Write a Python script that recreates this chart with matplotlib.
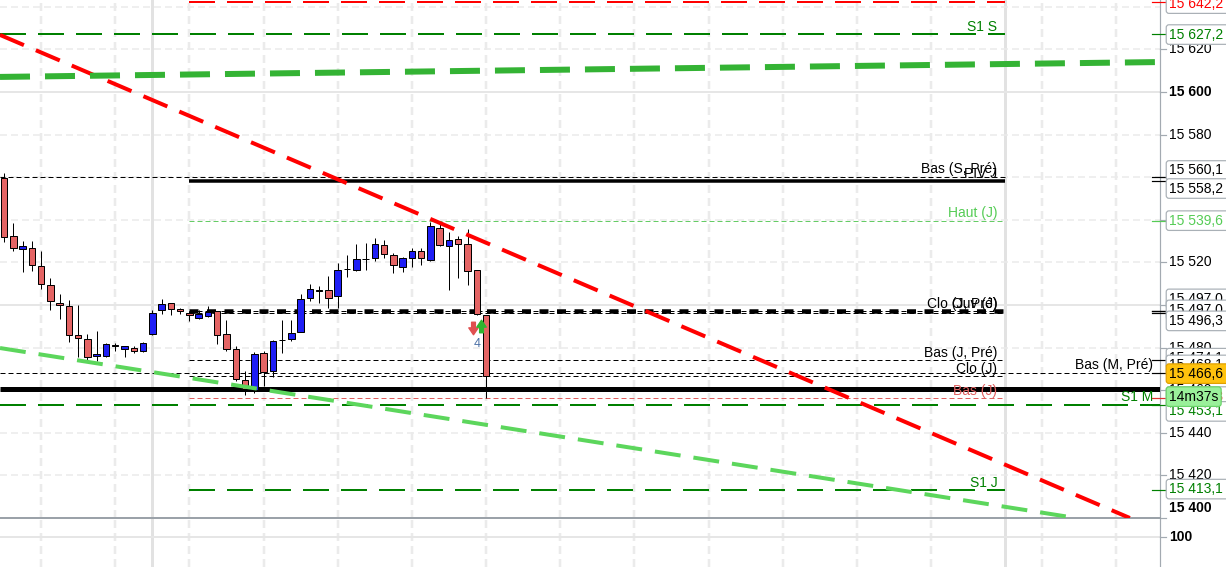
import matplotlib
matplotlib.use('Agg')
import matplotlib.pyplot as plt
from matplotlib.transforms import blended_transform_factory, offset_copy
from matplotlib.path import Path

plt.rcParams['font.family'] = ['Liberation Sans', 'DejaVu Sans']
plt.rcParams['font.size'] = 10
plt.rcParams['lines.scale_dashes'] = False

# ---------------- data ----------------
opens = [15559.6, 15532.4, 15526.2, 15526.6, 15518.2, 15509.2, 15500.9, 15499.4, 15485.8, 15484.0,
         15475.9, 15476.2, 15480.9, 15479.5, 15479.7, 15478.6, 15486.2, 15497.5, 15500.8, 15498.0,
         15496.2, 15493.8, 15494.8, 15497.0, 15486.2, 15479.2, 15464.8, 15460.1, 15477.3, 15469.2,
         15483.6, 15483.9, 15487.5, 15503.1, 15506.7, 15506.9, 15504.1, 15516.9, 15516.4, 15521.6,
         15521.9, 15528.2, 15523.3, 15518.0, 15521.9, 15525.2, 15521.1, 15536.0, 15527.8, 15530.8,
         15528.5, 15516.3, 15495.1]
highs = [15562.0, 15538.4, 15529.9, 15529.9, 15525.2, 15512.5, 15505.2, 15502.3, 15500.0, 15486.4,
         15487.8, 15482.2, 15482.3, 15480.8, 15480.9, 15482.5, 15497.7, 15502.8, 15500.9, 15498.6,
         15497.1, 15497.7, 15499.5, 15497.4, 15493.0, 15480.8, 15469.0, 15478.1, 15478.4, 15483.6,
         15493.0, 15493.0, 15505.2, 15509.9, 15508.9, 15513.6, 15519.6, 15523.5, 15528.6, 15529.0,
         15531.3, 15530.5, 15524.3, 15522.7, 15526.9, 15526.9, 15539.1, 15538.8, 15534.4, 15532.4,
         15535.5, 15516.4, 15495.3]
lows = [15529.6, 15525.5, 15515.6, 15516.1, 15507.7, 15497.8, 15493.6, 15482.8, 15475.4, 15473.9,
        15473.9, 15475.4, 15478.4, 15475.7, 15477.3, 15477.9, 15486.1, 15495.9, 15495.4, 15495.6,
        15492.3, 15493.3, 15494.5, 15481.5, 15478.5, 15464.3, 15457.7, 15458.5, 15462.1, 15466.3,
        15477.3, 15483.2, 15487.5, 15502.0, 15500.8, 15498.5, 15498.5, 15513.3, 15516.1, 15516.4,
        15520.8, 15521.9, 15514.9, 15515.6, 15518.0, 15518.8, 15520.8, 15527.8, 15507.0, 15512.5,
        15509.4, 15495.3, 15456.3]
closes = [15531.9, 15526.6, 15527.7, 15518.6, 15509.7, 15501.7, 15499.8, 15485.8, 15484.4, 15475.7,
          15477.0, 15481.7, 15480.9, 15480.6, 15478.6, 15482.2, 15496.1, 15500.3, 15498.0, 15497.1,
          15495.3, 15495.8, 15496.6, 15485.8, 15479.2, 15465.1, 15460.6, 15476.9, 15468.7, 15483.0,
          15483.6, 15486.7, 15502.7, 15507.4, 15506.7, 15503.1, 15516.3, 15516.9, 15521.5, 15521.6,
          15528.5, 15523.8, 15518.6, 15521.9, 15525.5, 15521.9, 15537.1, 15528.2, 15530.4, 15528.5,
          15515.8, 15495.8, 15466.6]

# horizontal levels (None = axis edge)
level_names = ["", "S1 S", "Bas (S, Pré)", "PIV J", "Haut (J)", "Clo (J, Pré)", "Ouv (J)", "",
               "Bas (J, Pré)", "Bas (M, Pré)", "Clo (J)", "", "Bas (J)", "S1 M", "S1 J"]
level_prices = [15642.2, 15627.2, 15560.1, 15558.2, 15539.6, 15497.0, 15497.0, 15496.3,
                15474.1, 15468.1, 15466.6, 15460.6, 15456.3, 15453.1, 15413.1]
level_start = [20, None, None, 20, 20, 20, 20, 20, 20, None, 20, None, 20, None, 20]
level_end = [108, 108, 108, 108, 108, 108, 108, 108, 108, None, 108, None, 108, None, 108]

# trend lines: two anchor points (candle index, price)
trend_red = [(0, 15626.0), (120, 15402.7)]
trend_green_top = [(0, 15607.1), (120, 15613.8)]
trend_green_low = [(0, 15479.5), (120, 15397.0)]

# right axis
tick_prices = [15620, 15600, 15580, 15560, 15540, 15520, 15500, 15480, 15460, 15440, 15420, 15400]
rlabel_prices = [15642.2, 15627.2, 15560.1, 15558.2, 15539.6, 15497.0, 15497.0, 15496.3,
                 15474.1, 15468.1, 15456.3, 15453.1, 15413.1]
current_price = 15466.6
timer_text = "14m37s"

vgrid_dashed = [4, 12, 20, 28, 36, 44, 52, 60, 68, 76, 84, 92, 100, 112, 120]
vgrid_solid = [16, 108]

signal_index = 51
signal_sell_price = 15489.2
signal_buy_price = 15490.1
signal_count_price = 15481.7
signal_count = "4"

# ---------------- styles / layout ----------------
W, H, DPI = 1226, 567, 100
PT = 72.0 / DPI  # points per pixel
STEP = 9.27      # pixels per candle

level_colors = ['#ff0000', '#008000', 'black', 'black', '#66cc66', 'black', 'black', 'black',
                'black', 'black', 'black', 'black', '#e06060', '#008000', '#008000']
level_lw = [2, 2, 1, 3.5, 1, 4.5, 1, 1, 1, 1, 1, 5, 1, 2, 2]
level_dash = [(26, 12), (26, 12), (5, 3), None, (5, 3), (9, 8.5), (5, 3), (5, 3),
              (5, 3), (5, 3), (5, 3), None, (5, 3), (26, 12), (26, 12)]
level_text_colors = ['#ff0000', '#008000', 'black', 'black', '#55cc55', 'black', 'black', 'black',
                     'black', 'black', 'black', 'black', '#e06060', '#008000', '#008000']
rlabel_colors = ['#ff0000', '#008000', 'black', 'black', '#55cc55', 'black', 'black', 'black',
                 'black', 'black', '#e03030', '#008000', '#008000']
rlabel_shift_px = [1.5, 0.5, -6.5, 7.5, 0, -12.5, -1.5, 8, -2, -8, -1.5, 6.5, -1]

fig = plt.figure(figsize=(W / DPI, H / DPI), dpi=DPI)
ax = fig.add_axes([0, 49 / H, 1160 / W, 518 / H])
axb = fig.add_axes([0, 0, 1160 / W, 48 / H])

xlim = (-4 / STEP, 1156 / STEP)
ax.set_xlim(*xlim)
ax.set_ylim(15400.0, 15643.19)
axb.set_xlim(*xlim)
axb.set_ylim(0, 160)

AXIS_GREY = '#a3aab1'
for a in (ax, axb):
    a.set_xticks([])
    a.set_yticks([])
    for s in ('top', 'left', 'bottom'):
        a.spines[s].set_visible(False)
    a.spines['right'].set_color(AXIS_GREY)
    a.spines['right'].set_linewidth(1.2 * PT)
    a.set_facecolor('white')
ax.spines['bottom'].set_visible(True)
ax.spines['bottom'].set_color('#9ba2a9')
ax.spines['bottom'].set_linewidth(2 * PT)

GRID = '#ebebeb'
# vertical grid
for a in (ax, axb):
    for v in vgrid_dashed:
        a.axvline(v, color=GRID, lw=2.5 * PT, ls=(0, (8 * PT, 5 * PT)), zorder=0.5)
    for v in vgrid_solid:
        a.axvline(v, color='#e2e2e2', lw=3 * PT, zorder=0.5)
# horizontal grid
for t in tick_prices[:-1] + [15640]:
    if t % 100 == 0:
        ax.axhline(t, color='#e6e6e6', lw=2 * PT, zorder=0.5)
    else:
        ax.axhline(t, color=GRID, lw=1.5 * PT, ls=(0, (7 * PT, 4 * PT)), zorder=0.5)
axb.axhline(100, color='#e6e6e6', lw=2 * PT, zorder=0.5)

# horizontal levels
for name, p, x0, x1, c, lw, d in zip(level_names, level_prices, level_start, level_end,
                                     level_colors, level_lw, level_dash):
    xa = xlim[0] if x0 is None else x0
    xb = xlim[1] if x1 is None else x1
    ls = '-' if d is None else (0, (d[0] * PT, d[1] * PT))
    ax.plot([xa, xb], [p, p], color=c, lw=lw * PT, ls=ls, zorder=3,
            solid_capstyle='butt', dash_capstyle='butt')

# level labels
for name, p, x1, tc in zip(level_names, level_prices, level_end, level_text_colors):
    if not name:
        continue
    xb = xlim[1] if x1 is None else x1
    dx = -7 if x1 is None else -8
    ax.annotate(name, xy=(xb, p), xycoords='data', xytext=(dx * PT, 0.5 * PT),
                textcoords='offset points', ha='right', va='bottom', color=tc,
                fontsize=10, zorder=3.5, annotation_clip=False)

# candles
xs = list(range(len(opens)))
ax.vlines(xs, lows, highs, color='black', lw=1 * PT, zorder=4)
for i, (o, c) in enumerate(zip(opens, closes)):
    if c > o:
        fc = '#1e1ef5'
    elif c < o:
        fc = '#e46464'
    else:
        fc = 'black'
    h = abs(c - o)
    if h < 0.3:
        h = 0.4
        b = o - 0.2
    else:
        b = min(o, c)
    ax.bar(i, h, bottom=b, width=6.5 / STEP, color=fc, edgecolor='black',
           linewidth=1 * PT, zorder=4.5)

# trend lines
ax.axline(trend_red[0], trend_red[1], color='#ff0000', lw=4 * PT,
          ls=(0, (26 * PT, 13 * PT)), zorder=6, dash_capstyle='butt')
ax.axline(trend_green_top[0], trend_green_top[1], color='#34b334', lw=6 * PT,
          ls=(0, (30 * PT, 15 * PT)), zorder=6, dash_capstyle='butt')
ax.axline(trend_green_low[0], trend_green_low[1], color='#5cd65c', lw=4 * PT,
          ls=(0, (26 * PT, 13 * PT)), zorder=6, dash_capstyle='butt')

# signal markers
down_arrow = Path([(-0.3, 1), (0.3, 1), (0.3, 0.1), (0.75, 0.1), (0, -1), (-0.75, 0.1),
                   (-0.3, 0.1), (-0.3, 1)],
                  [Path.MOVETO] + [Path.LINETO] * 6 + [Path.CLOSEPOLY])
up_arrow = Path([(-0.3, -1), (0.3, -1), (0.3, -0.1), (0.75, -0.1), (0, 1), (-0.75, -0.1),
                 (-0.3, -0.1), (-0.3, -1)],
                [Path.MOVETO] + [Path.LINETO] * 6 + [Path.CLOSEPOLY])
ax.plot([signal_index], [signal_sell_price], marker=down_arrow, ms=9, color='#e05050',
        mec='#e05050', ls='none', zorder=7,
        transform=offset_copy(ax.transData, fig=fig, x=-4, y=0, units='dots'))
ax.plot([signal_index], [signal_buy_price], marker=up_arrow, ms=9, color='#2fb52f',
        mec='#2fb52f', ls='none', zorder=7,
        transform=offset_copy(ax.transData, fig=fig, x=4, y=0, units='dots'))
ax.text(signal_index, signal_count_price, signal_count, color='#4a6fa5', fontsize=9,
        ha='center', va='center', zorder=7)

# right axis
tr = blended_transform_factory(ax.transAxes, ax.transData)
tick_dx = 6 / 1160.0


def fmt_tick(v):
    return f"{v:,}".replace(',', ' ')


def fmt_price(v):
    return f"{v:,.1f}".replace(',', ' ').replace('.', ',')


for t in tick_prices:
    ax.plot([1.0, 1.0 + tick_dx], [t, t], color=AXIS_GREY, lw=1.2 * PT, transform=tr,
            clip_on=False, zorder=2)
    dy = 10 if t == 15400 else 0
    ax.annotate(fmt_tick(t), xy=(1.0, t), xycoords=tr, xytext=(9 * PT, dy * PT),
                textcoords='offset points', ha='left', va='center', fontsize=10,
                fontweight='bold' if t % 100 == 0 else 'normal', color='black',
                annotation_clip=False, zorder=2)

BOX = 'round,pad=0.2,rounding_size=0.2'
box_kw = dict(boxstyle=BOX, fc='white', ec='#a9b0b6', lw=1.2 * PT)
z = 10
for p, c, s in zip(rlabel_prices, rlabel_colors, rlabel_shift_px):
    ax.plot([1.0 - 8 / 1160.0, 1.0 + tick_dx], [p, p], color=c, lw=1.2 * PT, transform=tr,
            clip_on=False, zorder=z)
    ax.annotate(fmt_price(p) + " ", xy=(1.0, p), xycoords=tr, xytext=(9 * PT, -s * PT),
                textcoords='offset points', ha='left', va='center', fontsize=10, color=c,
                bbox=dict(box_kw), annotation_clip=False, zorder=z)
    z += 1

ax.annotate(fmt_price(current_price) + " ", xy=(1.0, current_price), xycoords=tr,
            xytext=(9 * PT, 2.5 * PT), textcoords='offset points', ha='left', va='center',
            fontsize=10, color='black',
            bbox=dict(boxstyle=BOX, fc='#ffc20e', ec='#e0a000', lw=1.2 * PT),
            annotation_clip=False, zorder=40)
ax.annotate(timer_text, xy=(1.0, current_price), xycoords=tr,
            xytext=(9 * PT, -20.5 * PT), textcoords='offset points', ha='left', va='center',
            fontsize=10, color='black',
            bbox=dict(boxstyle=BOX, fc='#9af09a', ec='#6ad46a', lw=1.2 * PT),
            annotation_clip=False, zorder=41)

# bottom panel axis label
trb = blended_transform_factory(axb.transAxes, axb.transData)
axb.plot([1.0, 1.0 + tick_dx], [100, 100], color=AXIS_GREY, lw=1.2 * PT, transform=trb,
         clip_on=False)
axb.annotate("100", xy=(1.0, 100), xycoords=trb, xytext=(9 * PT, 0), textcoords='offset points',
             ha='left', va='center', fontsize=10, fontweight='bold', annotation_clip=False)

fig.savefig('out.png', dpi=DPI, facecolor='white')
